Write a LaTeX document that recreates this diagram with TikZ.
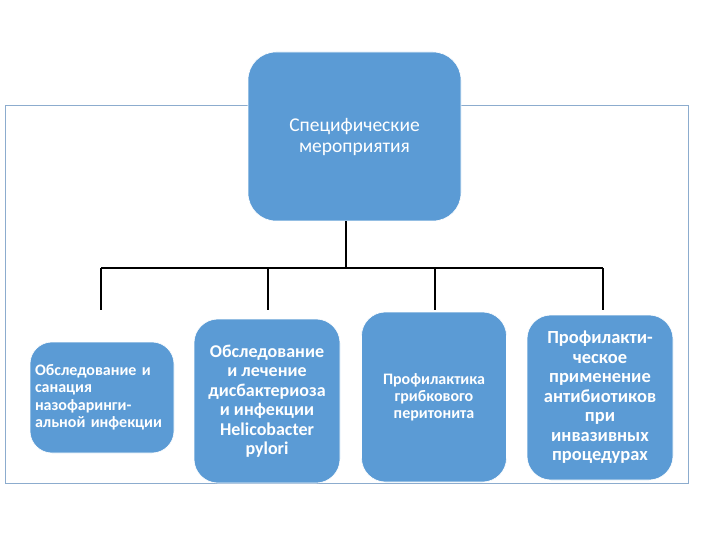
\documentclass[tikz,border=0pt]{standalone}
\usepackage{fontspec}
\setmainfont{Carlito}
\definecolor{boxblue}{RGB}{91,155,213}
\definecolor{framegray}{RGB}{140,172,206}
\begin{document}
\begin{tikzpicture}[
    x=1pt, y=-1pt,
    box/.style={fill=boxblue, draw=white, line width=0.6pt, rounded corners=24pt, align=center, text=white, inner sep=0pt},
    sub/.style={box, font=\bfseries},
    link/.style={line width=1.6pt, black}
]
\useasboundingbox (0,0) rectangle (720,540);
\draw[framegray, line width=0.8pt] (5,105) rectangle (688,483);

\node[box, minimum width=213pt, minimum height=169pt, rounded corners=28pt, font=\fontsize{19.5}{21}\selectfont] (top) at (354.5,136.5) {Специфические\\мероприятия};

\node[sub, minimum width=144pt, minimum height=111pt, rounded corners=22pt, text width=134pt, align=left, font=\bfseries\fontsize{16}{17.5}\selectfont] (nazo) at (102,397.5) {Обследование и\\санация\\назофаринги-\\альной инфекции};
\node[sub, minimum width=146pt, minimum height=164pt, font=\bfseries\fontsize{18}{19.5}\selectfont] (dysb) at (267,401) {Обследование\\и лечение\\дисбактериоза\\и инфекции\\Helicobacter\\pylori};
\node[sub, minimum width=145pt, minimum height=170pt, font=\bfseries\fontsize{16}{17}\selectfont] (fung) at (434,397) {Профилактика\\грибкового\\перитонита};
\node[sub, minimum width=146pt, minimum height=165pt, font=\bfseries\fontsize{18.5}{19.5}\selectfont] (abx) at (600,397.5) {Профилакти-\\ческое\\применение\\антибиотиков\\при\\инвазивных\\процедурах};

% tree lines
\coordinate (hub) at (346,268);
\coordinate (j1) at (101,268);
\coordinate (j2) at (268,268);
\coordinate (j3) at (435,268);
\coordinate (j4) at (603,268);
\coordinate (e1) at (101,310);
\coordinate (e2) at (268,310);
\coordinate (e3) at (435,310);
\coordinate (e4) at (603,310);
\draw[link] (top.south -| hub) -- (hub);
\draw[link] (j1) -- (j4);
\foreach \i in {1,...,4}
    \draw[link] (j\i) -- (e\i);
\end{tikzpicture}
\end{document}
